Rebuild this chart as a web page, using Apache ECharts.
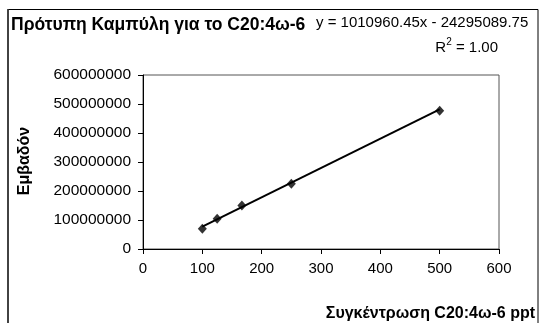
<!DOCTYPE html>
<html>
<head>
<meta charset="utf-8">
<script src="https://cdn.jsdelivr.net/npm/echarts@6/dist/echarts.min.js"></script>
<style>
  html, body { margin: 0; padding: 0; background: #fff; }
  #chart { width: 546px; height: 323px; }
</style>
</head>
<body>
<div id="chart"></div>
<script>
// Calibration standards: concentration (ppt) and measured peak area
const concentrations = [100, 125, 166.67, 250, 500];
const areas = [69500000, 104000000, 150000000, 225000000, 477000000];

// Linear fit reported for the calibration
const fitSlope = 1010960.45;
const fitIntercept = -24295089.75;
const fitR2 = 1.00;

const xTicks = { min: 0, max: 600, step: 100 };
const yTicks = { min: 0, max: 600000000, step: 100000000 };

const titleText = 'Πρότυπη Καμπύλη για το C20:4ω-6';
const xName = 'Συγκέντρωση C20:4ω-6 ppt';
const yName = 'Εμβαδόν';

const FONT = '"Liberation Sans", Arial, sans-serif';

const points = concentrations.map((c, i) => [c, areas[i]]);
const xLo = Math.min(...concentrations), xHi = Math.max(...concentrations);
const fitLine = [xLo, xHi].map(x => [x, fitSlope * x + fitIntercept]);

const eqText = 'y = ' + fitSlope.toFixed(2) + 'x - ' + Math.abs(fitIntercept).toFixed(2);

const chart = echarts.init(document.getElementById('chart'), null, { renderer: 'canvas' });
chart.setOption({
  animation: false,
  backgroundColor: '#fff',
  title: [
    {
      text: titleText,
      left: 11, top: 16, padding: 0,
      textStyle: { fontFamily: FONT, fontSize: 17.5, fontWeight: 'bold', color: '#000' }
    }
  ],
  graphic: [
    {
      type: 'rect', silent: true, z: 0,
      shape: { x: 8, y: 9.5, width: 530, height: 340 },
      style: { fill: null, stroke: '#000', lineWidth: 1 }
    },
    {
      type: 'line', silent: true,
      shape: { x1: 8, y1: 9, x2: 8, y2: 330 },
      style: { stroke: '#333', lineWidth: 1.6 }
    },
    {
      type: 'text', left: 316, top: 15,
      style: { text: eqText, font: '15px ' + FONT, fill: '#000' }
    },
    {
      type: 'text', right: 48, top: 37,
      style: {
        text: '{b|R}{s|2}{b| = ' + fitR2.toFixed(2) + '}',
        rich: {
          b: { font: '15px ' + FONT, fill: '#000', verticalAlign: 'bottom' },
          s: { font: '10px ' + FONT, fill: '#000', verticalAlign: 'top', padding: [0, 0, 8, 0] }
        }
      }
    },
    {
      type: 'text', right: 11, top: 306,
      style: { text: xName, font: 'bold 16px ' + FONT, fill: '#000' }
    },
    {
      type: 'text', x: 25, y: 161, rotation: Math.PI / 2,
      style: { text: yName, font: 'bold 16px ' + FONT, fill: '#000', align: 'center', verticalAlign: 'middle' }
    }
  ],
  grid: {
    left: 143, top: 75, width: 356, height: 174,
    show: true, borderColor: '#555', borderWidth: 1, backgroundColor: '#fff'
  },
  xAxis: {
    type: 'value',
    min: xTicks.min, max: xTicks.max, interval: xTicks.step,
    axisLine: { show: true, onZero: false, lineStyle: { color: '#000', width: 1 } },
    axisTick: { show: true, inside: false, length: 5, lineStyle: { color: '#000' } },
    axisLabel: { margin: 12, fontFamily: FONT, fontSize: 15, color: '#000', formatter: v => String(v) },
    splitLine: { show: false }
  },
  yAxis: {
    type: 'value',
    min: yTicks.min, max: yTicks.max, interval: yTicks.step,
    axisLine: { show: true, onZero: false, lineStyle: { color: '#000', width: 1 } },
    axisTick: { show: true, inside: false, length: 5, lineStyle: { color: '#000' } },
    axisLabel: { margin: 12, fontFamily: FONT, fontSize: 15.5, color: '#000', formatter: v => String(v) },
    splitLine: { show: false }
  },
  series: [
    {
      type: 'line',
      data: fitLine,
      showSymbol: false,
      lineStyle: { color: '#000', width: 2 },
      z: 2
    },
    {
      type: 'scatter',
      data: points,
      symbol: 'diamond',
      symbolSize: [9, 10],
      itemStyle: { color: '#000' },
      z: 3
    }
  ]
});
</script>
</body>
</html>
